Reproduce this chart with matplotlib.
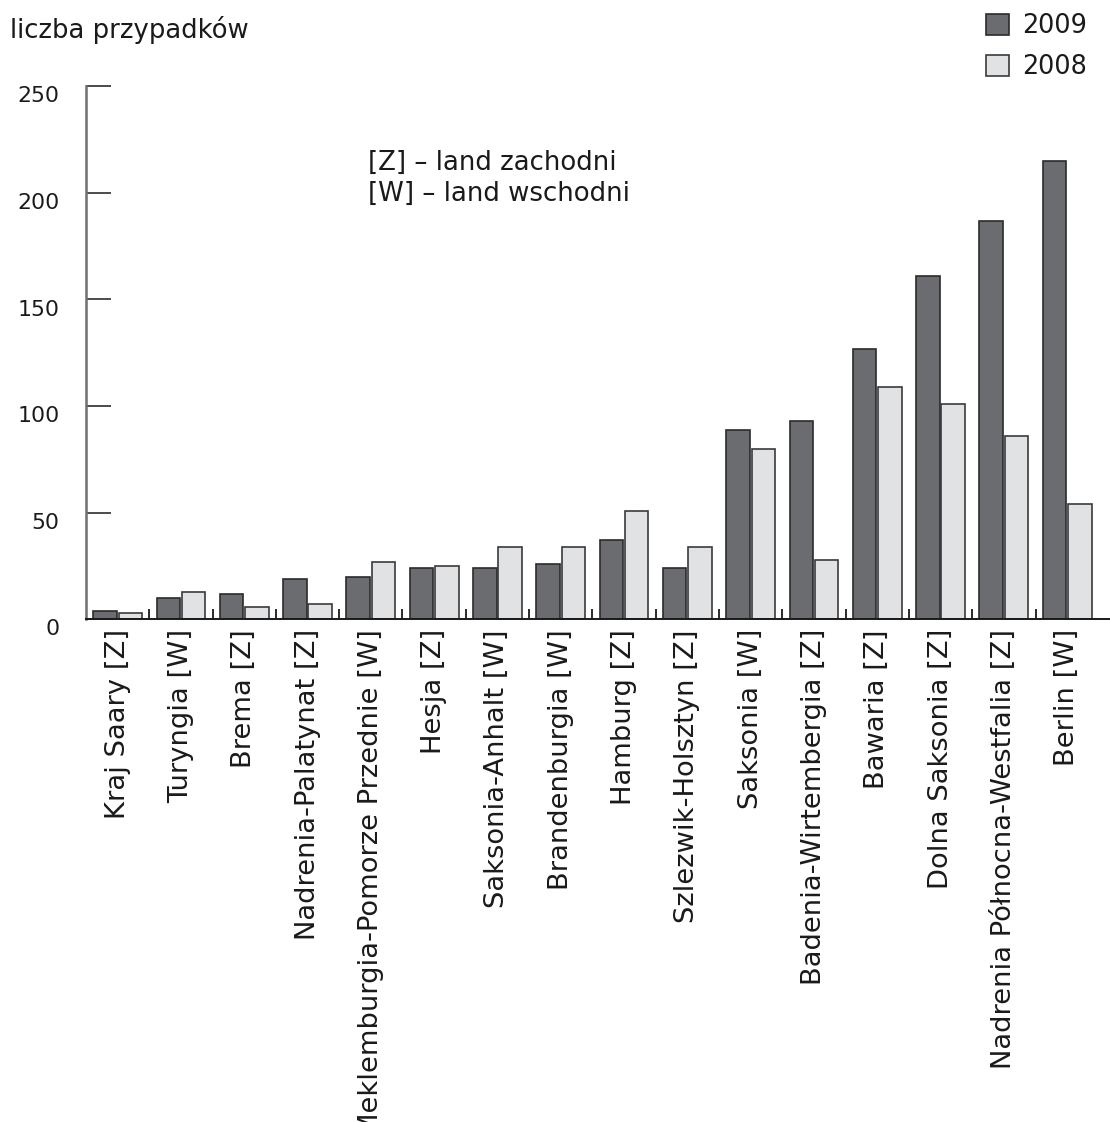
import numpy as np
import matplotlib.pyplot as plt
from matplotlib.transforms import ScaledTranslation

plt.rcParams['font.family'] = ['DejaVu Sans']

# cases per Land, 2009 vs 2008
landy = ['Kraj Saary [Z]', 'Turyngia [W]', 'Brema [Z]', 'Nadrenia-Palatynat [Z]',
         'Meklemburgia-Pomorze Przednie [W]', 'Hesja [Z]', 'Saksonia-Anhalt [W]',
         'Brandenburgia [W]', 'Hamburg [Z]', 'Szlezwik-Holsztyn [Z]', 'Saksonia [W]',
         'Badenia-Wirtembergia [Z]', 'Bawaria [Z]', 'Dolna Saksonia [Z]',
         'Nadrenia Północna-Westfalia [Z]', 'Berlin [W]']
v2009 = [4, 10, 12, 19, 20, 24, 24, 26, 37, 24, 89, 93, 127, 161, 187, 215]
v2008 = [3, 13, 6, 7, 27, 25, 34, 34, 51, 34, 80, 28, 109, 101, 86, 54]
yticks = [0, 50, 100, 150, 200, 250]

dark = '#6b6c70'
light = '#e1e2e4'
ink = '#1a1a1a'

W, H = 1110, 1122
fig = plt.figure(figsize=(W / 100, H / 100), dpi=100)
ax = fig.add_axes([86 / W, (H - 619.3) / H, 1024 / W, 533 / H])

x = np.arange(len(landy))
bw = 0.37
ax.bar(x + 0.115, v2009, width=bw, align='edge', color=dark,
       edgecolor='#2b2b2d', linewidth=1.2, label='2009')
ax.bar(x + 0.515, v2008, width=bw, align='edge', color=light,
       edgecolor='#3a3a3c', linewidth=1.2, label='2008')

ax.set_xlim(0, 1024 / 63.3)
ax.set_ylim(0, 250)

for s in ['top', 'right']:
    ax.spines[s].set_visible(False)
ax.spines['left'].set_color('#707070')
ax.spines['left'].set_linewidth(1.8)
ax.spines['bottom'].set_color(ink)
ax.spines['bottom'].set_linewidth(1.4)

ax.set_yticks(yticks)
ax.tick_params(axis='y', direction='in', length=18, width=1.1, color=ink,
               pad=19, labelsize=15.8, labelcolor=ink)
for lab in ax.get_yticklabels():
    lab.set_transform(lab.get_transform() + ScaledTranslation(0, -8 / 100, fig.dpi_scale_trans))

# short separators between groups
ax.set_xticks(np.arange(1, len(landy)))
ax.tick_params(axis='x', which='major', direction='in', length=7, width=1.3,
               color=ink, labelbottom=False)
ax.set_xticks(x + 0.5, minor=True)
ax.set_xticklabels(landy, minor=True, rotation=90, fontsize=19.7, color=ink)
ax.tick_params(axis='x', which='minor', length=0, pad=7)

fig.text(10 / W, 1 - 30 / H, 'liczba przypadków', fontsize=18.6, color=ink,
         ha='left', va='center')
fig.text(368 / W, 1 - 178 / H, '[Z] – land zachodni\n[W] – land wschodni',
         fontsize=18.7, color=ink, ha='left', va='center', linespacing=1.25)

leg = fig.legend(loc='upper right', bbox_to_anchor=(1097 / W, 1 - 3 / H), frameon=False,
                 fontsize=18.4, handlelength=0.9, handleheight=0.9,
                 handletextpad=0.5, labelspacing=0.58, borderaxespad=0)
for t in leg.get_texts():
    t.set_color(ink)

fig.savefig('out.png', dpi=100)
